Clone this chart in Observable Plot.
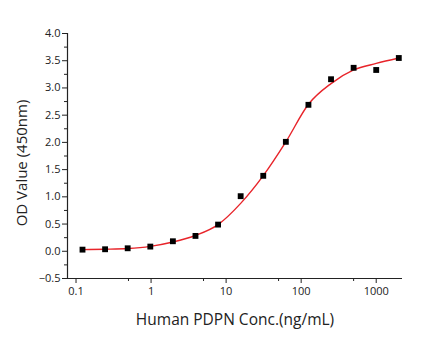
<!DOCTYPE html>
<html>
<head>
<meta charset="utf-8">
<script src="https://cdn.jsdelivr.net/npm/d3@7"></script>
<script src="https://cdn.jsdelivr.net/npm/@observablehq/plot@0.6"></script>
<style>
  body { margin: 0; background: #fff; }
  #chart svg { display: block; }
</style>
</head>
<body>
<div id="chart"></div>
<script>
// Measured points (concentration ng/mL, OD450)
const conc = [0.122, 0.244, 0.488, 0.977, 1.953, 3.906, 7.8125, 15.625, 31.25, 62.5, 125, 250, 500, 1000, 2000];
const od   = [0.03, 0.037, 0.055, 0.086, 0.184, 0.282, 0.49, 1.012, 1.386, 2.01, 2.69, 3.16, 3.37, 3.33, 3.55];
// Fitted curve, values
const fitConc = [0.122, 0.244, 0.488, 0.977, 1.953, 3.906, 7.8125, 15.625, 31.25, 62.5, 125, 250, 500, 1000, 2000];
const fitOd   = [0.03, 0.037, 0.05, 0.09, 0.17, 0.29, 0.49, 0.88, 1.39, 2.01, 2.70, 3.08, 3.33, 3.45, 3.55];
// Tick values
const xTicks = [0.1, 1, 10, 100, 1000];
const xMinor = [0.5, 5, 50, 500];
const yTicks = [-0.5, 0, 0.5, 1, 1.5, 2, 2.5, 3, 3.5, 4];
const yMinor = [-0.25, 0.25, 0.75, 1.25, 1.75, 2.25, 2.75, 3.25, 3.75];
const xLabel = "Human PDPN Conc.(ng/mL)";
const yLabel = "OD Value (450nm)";

const points = conc.map((c, i) => ({c, v: od[i]}));
const fit = fitConc.map((c, i) => ({c, v: fitOd[i]}));
const xDomain = [0.077, 2240];

const chart = Plot.plot({
  width: 442,
  height: 346,
  marginLeft: 67,
  marginRight: 40,
  marginTop: 33,
  marginBottom: 68,
  style: {fontFamily: "'Open Sans', sans-serif", fontSize: "11px", color: "#222", background: "#fff"},
  x: {type: "log", domain: xDomain},
  y: {domain: [-0.5, 4.0]},
  marks: [
    Plot.axisX({ticks: xTicks, tickSize: 5, tickPadding: 4, tickFormat: d => String(d), label: null, fontSize: 11}),
    Plot.axisX({ticks: xMinor, tickSize: 3, tickFormat: () => "", label: null}),
    Plot.axisY({ticks: yTicks, tickSize: 5, tickPadding: 2, tickFormat: d3.format(".1f"), label: null, fontSize: 11}),
    Plot.axisY({ticks: yMinor, tickSize: 3, tickFormat: () => "", label: null}),
    Plot.ruleX([xDomain[0]], {stroke: "#222", strokeWidth: 1.2}),
    Plot.ruleY([-0.5], {stroke: "#222", strokeWidth: 1.2}),
    Plot.line(fit, {x: "c", y: "v", stroke: "#e8242a", strokeWidth: 1.4, curve: "monotone-x"}),
    Plot.dot(points, {x: "c", y: "v", symbol: "square", r: 3.3, fill: "#000", stroke: "none"}),
    Plot.text([xLabel], {frameAnchor: "bottom", dy: 42, fontSize: 15.5, fill: "#222", textAnchor: "middle", lineAnchor: "middle"}),
    Plot.text([yLabel], {frameAnchor: "left", dx: -45, dy: 7, rotate: -90, fontSize: 15, fill: "#222", textAnchor: "middle", lineAnchor: "middle"})
  ]
});
document.getElementById("chart").appendChild(chart);
</script>
</body>
</html>
